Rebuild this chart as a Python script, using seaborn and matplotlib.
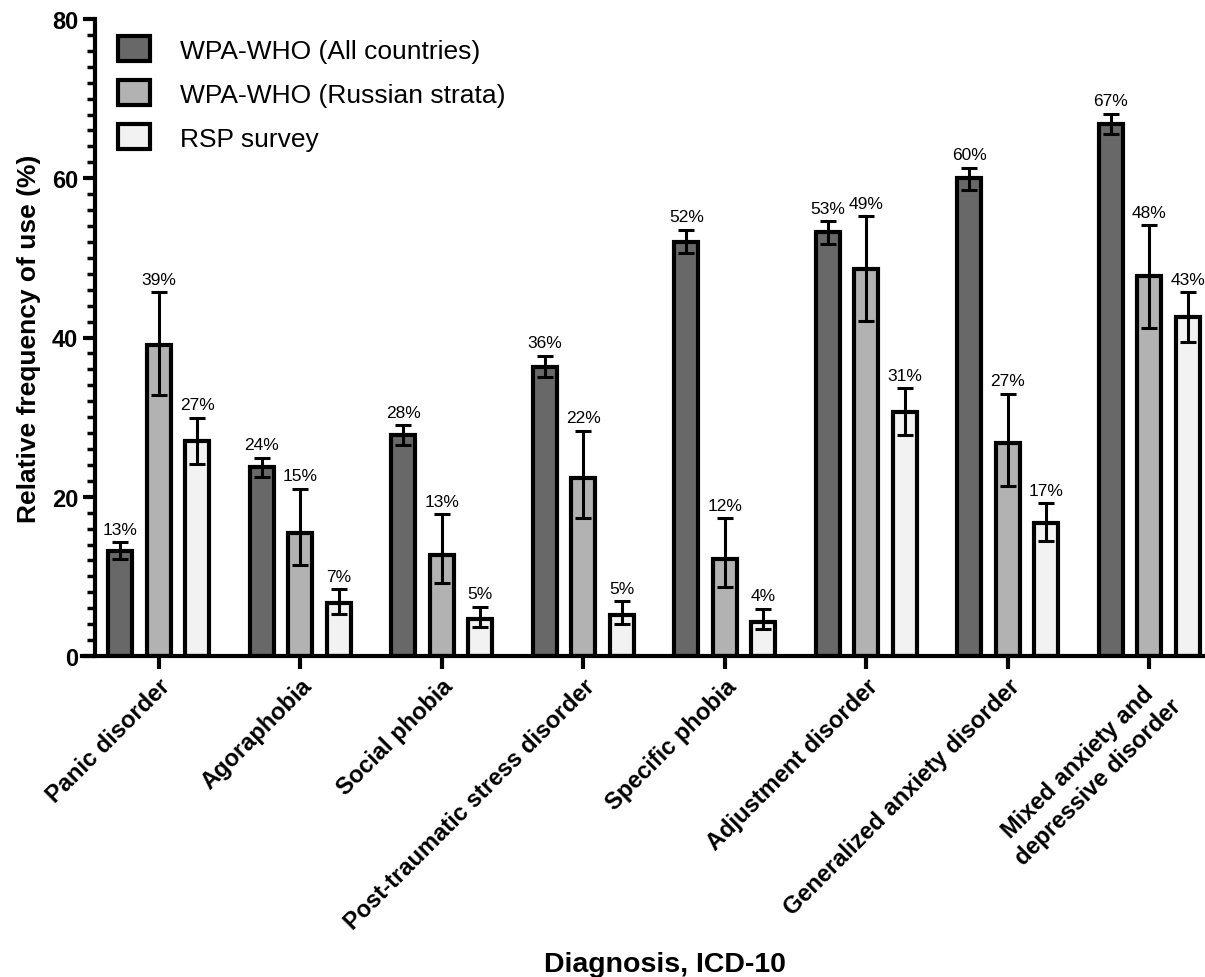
import matplotlib
matplotlib.use("Agg")
import matplotlib.pyplot as plt
from matplotlib.patches import Patch
import seaborn as sns
import pandas as pd
import numpy as np

categories = ["Panic disorder", "Agoraphobia", "Social phobia",
              "Post-traumatic stress disorder", "Specific phobia",
              "Adjustment disorder", "Generalized anxiety disorder",
              "Mixed anxiety and\ndepressive disorder"]
series = ["WPA-WHO (All countries)", "WPA-WHO (Russian strata)", "RSP survey"]

all_countries = [13.2, 23.7, 27.7, 36.3, 52.0, 53.2, 60.0, 66.8]
all_lo = [12.2, 22.5, 26.5, 35.0, 50.6, 51.8, 58.5, 65.5]
all_hi = [14.3, 24.9, 29.0, 37.7, 53.5, 54.6, 61.3, 68.1]

russian = [39.0, 15.4, 12.7, 22.3, 12.2, 48.6, 26.8, 47.7]
russian_lo = [32.8, 11.4, 9.2, 17.3, 8.7, 42.1, 21.4, 41.2]
russian_hi = [45.7, 21.0, 17.8, 28.3, 17.3, 55.2, 32.9, 54.1]

rsp = [27.0, 6.6, 4.6, 5.2, 4.3, 30.6, 16.7, 42.6]
rsp_lo = [24.1, 5.3, 3.6, 4.0, 3.4, 27.7, 14.4, 39.4]
rsp_hi = [29.9, 8.4, 6.2, 6.9, 5.9, 33.6, 19.2, 45.7]

colors = ["#686868", "#b2b2b2", "#f2f2f2"]

values = [all_countries, russian, rsp]
lows = [all_lo, russian_lo, rsp_lo]
highs = [all_hi, russian_hi, rsp_hi]

df = pd.DataFrame({
    "Diagnosis": categories * 3,
    "Series": np.repeat(series, len(categories)),
    "Value": all_countries + russian + rsp,
})

sns.set_style("ticks")
plt.rcParams["font.family"] = ["Liberation Sans", "DejaVu Sans"]
plt.rcParams["text.color"] = "black"
plt.rcParams["axes.labelcolor"] = "black"
plt.rcParams["xtick.color"] = "black"
plt.rcParams["ytick.color"] = "black"
plt.rcParams["axes.edgecolor"] = "black"

fig = plt.figure(figsize=(12.05, 9.78), dpi=100)
ax = fig.add_axes([82 / 1205, 1 - 657 / 978, 1 - 82 / 1205, (657 - 20) / 978])

sns.barplot(data=df, x="Diagnosis", y="Value", hue="Series", order=categories,
            hue_order=series, palette=colors, width=0.816, gap=0.375,
            edgecolor="black", linewidth=3.0, errorbar=None, legend=False,
            ax=ax, zorder=2)

for cont, v, lo, hi in zip(ax.containers, values, lows, highs):
    xs = [p.get_x() + p.get_width() / 2 for p in cont.patches]
    v = np.array(v); lo = np.array(lo); hi = np.array(hi)
    ax.errorbar(xs, v, yerr=[v - lo, hi - v], fmt="none", ecolor="black",
                elinewidth=2.2, capsize=6, capthick=2.2, zorder=3)
    for x, val, h in zip(xs, v, hi):
        ax.annotate(f"{round(val):d}%", (x, h), xytext=(0, 4),
                    textcoords="offset points", ha="center", va="bottom",
                    fontsize=12.5, color="black")

ax.set_xlim(-0.542, 7.394)
ax.set_ylim(0, 80)
ax.set_yticks([0, 20, 40, 60, 80])
ax.set_yticks(np.arange(0, 81, 2), minor=True)

sns.despine(ax=ax)
ax.spines["left"].set_position(("data", -0.45))
ax.spines["left"].set_linewidth(3.0)
ax.spines["bottom"].set_linewidth(3.0)

ax.tick_params(axis="y", which="major", length=9, width=3, labelsize=17, pad=3)
ax.tick_params(axis="y", which="minor", length=5.5, width=2.5)
ax.tick_params(axis="x", which="major", length=9, width=3, labelsize=17, pad=4)
for lab in ax.get_yticklabels():
    lab.set_fontweight("bold")
ax.set_xticks(range(len(categories)))
ax.set_xticklabels(categories, rotation=45, ha="right", rotation_mode="anchor",
                   fontweight="bold", fontsize=17, multialignment="center",
                   linespacing=1.3)

ax.set_ylabel("Relative frequency of use (%)", fontsize=19, fontweight="bold",
              labelpad=8)
ax.set_xlabel("")
fig.text(0.552, 0.0, "Diagnosis, ICD-10", fontsize=20.5, fontweight="bold",
         ha="center", va="bottom")

handles = [Patch(facecolor=c, edgecolor="black", linewidth=3.0) for c in colors]
ax.legend(handles, series, loc="upper left", bbox_to_anchor=(0.032, 1 - 17 / 637),
          frameon=False, fontsize=19, handlelength=1.2, handleheight=1.1,
          handletextpad=1.15, labelspacing=0.66, borderpad=0, borderaxespad=0)

fig.savefig("out.png", dpi=100)
